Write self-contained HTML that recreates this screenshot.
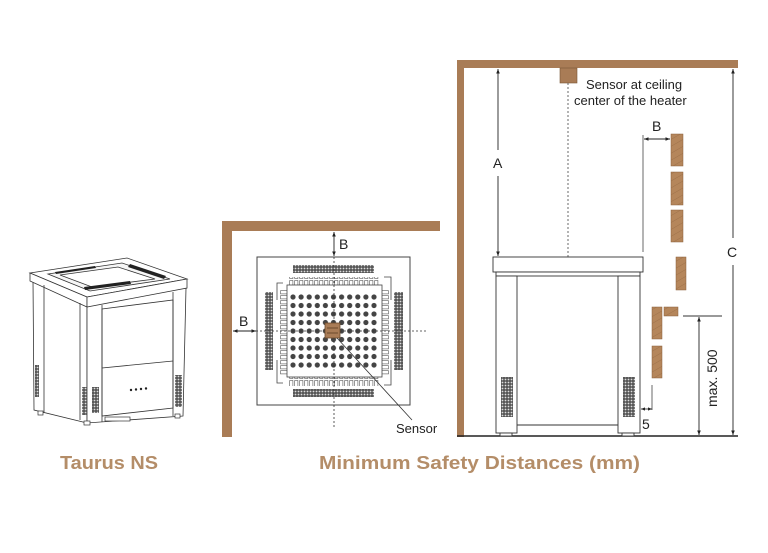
<!DOCTYPE html>
<html><head><meta charset="utf-8"><style>
html,body{margin:0;padding:0;background:#fff;width:768px;height:553px;overflow:hidden}
svg{display:block}
text{font-family:"Liberation Sans",sans-serif}
</style></head><body>
<svg width="768" height="553" viewBox="0 0 768 553" xmlns="http://www.w3.org/2000/svg">
<defs>
<marker id="ar" viewBox="0 0 10 10" refX="10" refY="5" markerWidth="5" markerHeight="5" orient="auto-start-reverse"><path d="M0,1 L10,5 L0,9 z" fill="#222"/></marker>
<pattern id="dots" x="289" y="293" width="8.1" height="8.5" patternUnits="userSpaceOnUse"><circle cx="4" cy="4" r="2.6" fill="#444"/></pattern>
<pattern id="vent" width="3" height="3" patternUnits="userSpaceOnUse"><rect width="3" height="3" fill="#555"/><circle cx="1.5" cy="1.5" r="0.9" fill="#ddd"/></pattern>
<pattern id="finh" x="289" width="5" height="10" patternUnits="userSpaceOnUse"><rect x="0.7" y="0.5" width="3.2" height="8" fill="#fff" stroke="#555" stroke-width="0.6"/></pattern>
<pattern id="finv" y="290" width="10" height="5" patternUnits="userSpaceOnUse"><rect x="0.5" y="0.7" width="8" height="3.2" fill="#fff" stroke="#555" stroke-width="0.6"/></pattern>
<pattern id="wood" width="6" height="6" patternUnits="userSpaceOnUse" patternTransform="rotate(60)"><rect width="6" height="6" fill="#b5865b"/><line x1="0" y1="0" x2="0" y2="6" stroke="#9a6d45" stroke-width="0.8"/></pattern>
</defs>

<!-- ===== Heater perspective ===== -->
<g stroke="#333" stroke-width="0.8" fill="#fff">
<polygon points="33,280 34,410 87,423 87,305"/>
<polygon points="87,305 87,423 183,416 186,288"/>
<polygon points="30,273 127,258 187,279 87,297"/>
<polygon points="30,273 87,297 87,307 30,281"/>
<polygon points="87,297 187,279 187,288 87,307"/>
<polygon points="48,274 122,263 170,279 90,291" fill="#f6f6f6"/>
<polygon points="60,275 118,267 155,279 92,287" fill="#fff"/>
<polygon points="102,309 173,300 173,408 102,416"/>
<line x1="102" y1="368" x2="173" y2="361"/>
<line x1="80" y1="303" x2="80" y2="420"/>
<line x1="44" y1="285" x2="44" y2="413"/>
<line x1="102" y1="305" x2="102" y2="422"/>
<line x1="173" y1="292" x2="173" y2="416"/>
</g>
<g fill="#222">
<polygon points="55,272 95,266 96,268 56,274"/>
<polygon points="130,264 166,276 164,279 128,267"/>
<polygon points="84,287 130,281 131,284 85,290"/>
<circle cx="131" cy="390" r="1.2"/><circle cx="136" cy="389.5" r="1.2"/><circle cx="141" cy="389" r="1.2"/><circle cx="146" cy="388.5" r="1.2"/>
</g>
<rect x="35" y="365" width="4" height="32" fill="url(#vent)"/>
<rect x="82" y="387" width="5" height="28" fill="url(#vent)"/>
<rect x="92" y="387" width="7" height="26" fill="url(#vent)"/>
<rect x="175" y="375" width="7" height="32" fill="url(#vent)"/>
<g fill="#fff" stroke="#333" stroke-width="0.7"><rect x="38" y="411" width="5" height="4"/><rect x="84" y="421" width="6" height="4"/><rect x="175" y="414" width="5" height="4"/><rect x="105" y="417" width="25" height="4"/></g>

<!-- ===== Plan view ===== -->
<path d="M222,437 V221 H440 V231 H232 V437 Z" fill="#a97c56"/>
<rect x="257" y="257" width="153" height="148" fill="#fff" stroke="#444" stroke-width="1"/>
<rect x="293" y="265" width="81" height="8" fill="url(#vent)"/>
<rect x="293" y="389" width="81" height="8" fill="url(#vent)"/>
<rect x="265" y="292" width="8" height="78" fill="url(#vent)"/>
<rect x="394" y="292" width="9" height="78" fill="url(#vent)"/>
<rect x="289" y="277" width="90" height="9" fill="url(#finh)"/>
<rect x="289" y="377" width="90" height="9" fill="url(#finh)"/>
<rect x="280" y="290" width="9" height="85" fill="url(#finv)"/>
<rect x="381" y="290" width="9" height="85" fill="url(#finv)"/>
<g fill="none" stroke="#444" stroke-width="0.8">
<path d="M283,283 H277 V300 M277,360 V383 H283 M384,277 H391 V300 M391,360 V385 H384"/>
</g>
<rect x="287" y="285" width="95" height="92" fill="#fff" stroke="#444" stroke-width="0.8"/>
<rect x="289" y="293" width="89" height="76" fill="url(#dots)"/>
<line x1="334" y1="257" x2="334" y2="427" stroke="#333" stroke-width="0.8" stroke-dasharray="2,2"/>
<line x1="256" y1="331" x2="428" y2="331" stroke="#333" stroke-width="0.8" stroke-dasharray="2,2"/>
<rect x="325" y="323" width="15" height="15" fill="#a97c56" stroke="#6b4a2c" stroke-width="0.8"/>
<line x1="327" y1="328" x2="338" y2="328" stroke="#6b4a2c"/><line x1="327" y1="333" x2="338" y2="333" stroke="#6b4a2c"/>
<line x1="334" y1="232" x2="334" y2="256" stroke="#222" stroke-width="0.9" marker-start="url(#ar)" marker-end="url(#ar)"/>
<line x1="233" y1="331" x2="256" y2="331" stroke="#222" stroke-width="0.9" marker-start="url(#ar)" marker-end="url(#ar)"/>
<text x="339" y="249" font-size="14" fill="#222">B</text>
<text x="239" y="326" font-size="14" fill="#222">B</text>
<line x1="337" y1="338" x2="412" y2="420" stroke="#333" stroke-width="0.8"/>
<text x="396" y="433" font-size="13" fill="#222">Sensor</text>

<!-- ===== Side view ===== -->
<path d="M457,437 V60 H738 V68 H464 V437 Z" fill="#a97c56"/>
<line x1="457" y1="436" x2="738" y2="436" stroke="#222" stroke-width="1.5"/>
<rect x="560" y="68" width="17" height="15" fill="#a97c56" stroke="#7a5535" stroke-width="0.6"/>
<line x1="568" y1="83" x2="568" y2="258" stroke="#444" stroke-width="0.8" stroke-dasharray="2,2"/>
<text x="586" y="89" font-size="13" fill="#222">Sensor at ceiling</text>
<text x="574" y="105" font-size="13" fill="#222">center of the heater</text>
<line x1="498" y1="69" x2="498" y2="150" stroke="#222" stroke-width="0.9" marker-start="url(#ar)"/>
<line x1="498" y1="176" x2="498" y2="256" stroke="#222" stroke-width="0.9" marker-end="url(#ar)"/>
<text x="493" y="168" font-size="14" fill="#222">A</text>
<g fill="#fff" stroke="#333" stroke-width="0.9">
<rect x="493" y="257" width="150" height="15"/>
<rect x="496" y="272" width="144" height="4"/>
<rect x="496" y="276" width="21" height="157"/>
<rect x="618" y="276" width="22" height="157"/>
<line x1="517" y1="425" x2="618" y2="425"/>
<rect x="500" y="433" width="12" height="3"/><rect x="622" y="433" width="12" height="3"/>
</g>
<rect x="501" y="377" width="12" height="40" fill="url(#vent)"/>
<rect x="623" y="377" width="12" height="40" fill="url(#vent)"/>
<line x1="643" y1="135" x2="643" y2="252" stroke="#444" stroke-width="0.8"/>
<line x1="644" y1="139" x2="670" y2="139" stroke="#222" stroke-width="0.9" marker-start="url(#ar)" marker-end="url(#ar)"/>
<text x="652" y="131" font-size="14" fill="#222">B</text>
<g fill="url(#wood)" stroke="#8a603c" stroke-width="0.5">
<rect x="671" y="134" width="12" height="32"/>
<rect x="671" y="172" width="12" height="33"/>
<rect x="671" y="210" width="12" height="32"/>
<rect x="676" y="257" width="10" height="33"/>
<rect x="652" y="307" width="10" height="32"/>
<rect x="664" y="307" width="14" height="9"/>
<rect x="652" y="346" width="10" height="32"/>
</g>
<line x1="652" y1="385" x2="652" y2="410" stroke="#444" stroke-width="0.8"/>
<line x1="641" y1="409" x2="652" y2="409" stroke="#222" stroke-width="0.8" marker-start="url(#ar)" marker-end="url(#ar)"/>
<text x="642" y="429" font-size="14" fill="#222">5</text>
<line x1="683" y1="316" x2="722" y2="316" stroke="#333" stroke-width="0.9"/>
<line x1="699" y1="317" x2="699" y2="435" stroke="#222" stroke-width="0.9" marker-start="url(#ar)" marker-end="url(#ar)"/>
<text transform="translate(717,407) rotate(-90)" font-size="14" fill="#222">max. 500</text>
<line x1="733" y1="69" x2="733" y2="238" stroke="#222" stroke-width="0.9" marker-start="url(#ar)"/>
<line x1="733" y1="265" x2="733" y2="435" stroke="#222" stroke-width="0.9" marker-end="url(#ar)"/>
<text x="727" y="257" font-size="14" fill="#222">C</text>

<text x="60" y="469" font-size="18" font-weight="bold" fill="#b48d68" textLength="98" lengthAdjust="spacingAndGlyphs">Taurus NS</text>
<text x="319" y="469" font-size="18" font-weight="bold" fill="#b48d68" textLength="321" lengthAdjust="spacingAndGlyphs">Minimum Safety Distances (mm)</text>
</svg>
</body></html>
